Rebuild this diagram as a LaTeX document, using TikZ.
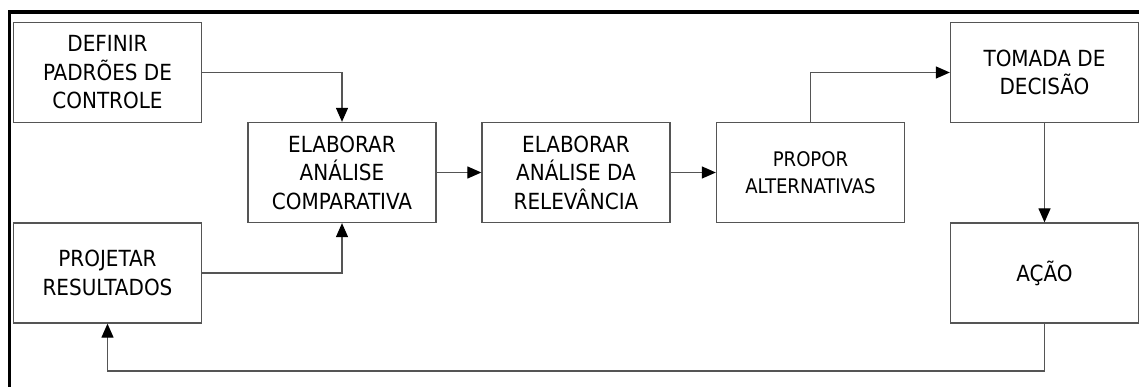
\documentclass[tikz,border=0pt]{standalone}
\usepackage{fontspec}
\setmainfont{DejaVu Sans Condensed}
\usetikzlibrary{arrows.meta,calc}
\definecolor{boxgray}{RGB}{85,85,85}
\tikzstyle{etapa} = [rectangle, draw=boxgray, line width=0.9pt, minimum width=4.7cm, minimum height=2.5cm, text centered, align=center, font=\fontsize{15.8}{20.3}\selectfont]
\tikzstyle{seta} = [line width=0.9pt, draw=boxgray, -{Triangle[length=3.5mm,width=3mm,color=black]}]

\begin{document}
\begin{tikzpicture}[x=0.025cm,y=-0.025cm]
\useasboundingbox (0,0) rectangle (1139,387);
\draw[line width=2.8pt] (9.5,387) -- (9.5,11.7) -- (1139,11.7);%moldura
\draw (107.5,72.5) node (def) [etapa] {DEFINIR\\PADRÕES DE\\CONTROLE};
\draw (107.5,273) node (proj) [etapa] {PROJETAR\\RESULTADOS};
\draw (342,172.5) node (comp) [etapa] {ELABORAR\\ANÁLISE\\COMPARATIVA};
\draw (576,172.5) node (rel) [etapa] {ELABORAR\\ANÁLISE DA\\RELEVÂNCIA};
\draw (810.5,172.5) node (prop) [etapa, font=\fontsize{14.3}{19}\selectfont] {PROPOR\\ALTERNATIVAS};
\draw (1044.5,72.5) node (tom) [etapa] {TOMADA DE\\DECISÃO};
\draw (1044.5,273) node (acao) [etapa] {AÇÃO};
\coordinate (volta) at (1044.5,371);
\draw[seta] (def.east) -| (comp.north);
\draw[seta] (proj.east) -| (comp.south);
\draw[seta] (comp) -- (rel);
\draw[seta] (rel) -- (prop);
\draw[seta] (prop.north) |- (tom.west);
\draw[seta] (tom) -- (acao);
\draw[seta] (acao.south) -- (volta) -| (proj.south);
\end{tikzpicture}
\end{document}
